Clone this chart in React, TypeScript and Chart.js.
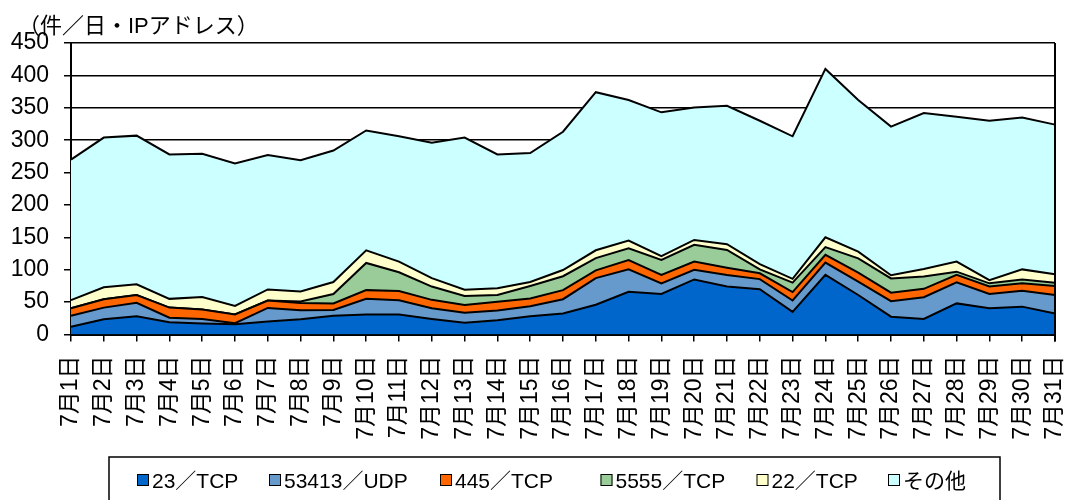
import React, { useEffect, useRef } from "react";
import { Chart, registerables } from "chart.js";

Chart.register(...registerables);

const FONT = "'Liberation Sans', Arial, 'Noto Sans CJK JP', sans-serif";

const TITLE = "（件／日・IPアドレス）";

const days = [
  "7月1日", "7月2日", "7月3日", "7月4日", "7月5日", "7月6日", "7月7日", "7月8日",
  "7月9日", "7月10日", "7月11日", "7月12日", "7月13日", "7月14日", "7月15日", "7月16日",
  "7月17日", "7月18日", "7月19日", "7月20日", "7月21日", "7月22日", "7月23日", "7月24日",
  "7月25日", "7月26日", "7月27日", "7月28日", "7月29日", "7月30日", "7月31日",
];

const yTicks = [0, 50, 100, 150, 200, 250, 300, 350, 400, 450];

const tcp23 = [12, 23.5, 28, 19, 17, 16, 20, 23.5, 29, 31, 31, 24, 18, 22, 28, 32.5, 46, 66, 62.5, 85, 74, 70, 35, 92, 61, 27.5, 24, 48, 40.5, 43, 32.5];
const udp53413 = [17, 18, 21, 7, 7, 1.5, 21, 14, 9, 24, 22, 16.5, 15.5, 15, 15.5, 22, 41, 34.5, 16.5, 15, 18, 15.5, 17.5, 19, 20.5, 24, 33.5, 32.5, 22, 24.5, 28.5];
const tcp445 = [11.5, 13, 12, 15.5, 14.5, 13.5, 11.5, 11, 10, 13.5, 14, 13, 12, 13.5, 12, 14, 12, 14.5, 13, 12.5, 11, 9, 13, 12, 14, 13, 13, 11.5, 11.5, 11.5, 14];
const tcp5555 = [0, 0, 0, 0, 0, 0, 0, 2.5, 14.5, 42, 29, 20.5, 14, 10.5, 19.5, 21.5, 19, 18, 23, 26, 27.5, 6, 14.5, 12, 22, 22, 19, 5, 5, 6, 5];
const tcp22 = [12.5, 18.5, 16.5, 13.5, 19.5, 13, 17, 15.5, 18.5, 19.5, 16.5, 13, 9.5, 10.5, 6, 9.5, 12, 12, 6, 7.5, 9, 8, 6, 15, 10.5, 5, 11.5, 15.5, 5, 15.5, 13];
const others = [217, 231, 229.5, 223, 221, 220, 207.5, 202.5, 203, 185, 193.5, 209, 235, 206.5, 199, 213.5, 244, 217, 222, 204.5, 213.5, 221.5, 220, 260, 234, 229.5, 241, 223.5, 246, 234.5, 231];

const seriesNames = ["23／TCP", "53413／UDP", "445／TCP", "5555／TCP", "22／TCP", "その他"];
const seriesColors = ["#0066CC", "#6699CC", "#FF6600", "#99CC99", "#FFFFCC", "#CCFFFF"];
const seriesData = [tcp23, udp53413, tcp445, tcp5555, tcp22, others];

const legendBoxX = [137, 269, 440, 600.5, 756.5, 888];

const decorPlugin = {
  id: "decor",
  afterDraw(chart: any) {
    const ctx = chart.ctx as CanvasRenderingContext2D;
    const area = chart.chartArea;
    ctx.save();
    // right border of plot area
    ctx.strokeStyle = "#000";
    ctx.lineWidth = 2;
    ctx.beginPath();
    ctx.moveTo(area.right, area.top);
    ctx.lineTo(area.right, area.bottom + 7);
    ctx.stroke();

    // title
    ctx.fillStyle = "#000";
    ctx.font = `22px ${FONT}`;
    ctx.textAlign = "left";
    ctx.textBaseline = "alphabetic";
    ctx.fillText(TITLE, 18, 33);

    // legend
    ctx.font = `21px ${FONT}`;
    const ds = chart.data.datasets;
    const box = 12;
    const cy = 480;
    ds.forEach((d: any, i: number) => {
      const x = legendBoxX[i];
      ctx.fillStyle = d.backgroundColor;
      ctx.fillRect(x, cy - box / 2, box, box);
      ctx.strokeStyle = "#000";
      ctx.lineWidth = 1;
      ctx.strokeRect(x + 0.5, cy - box / 2 + 0.5, box - 1, box - 1);
      ctx.fillStyle = "#000";
      ctx.fillText(d.label, x + box + 3, 488);
    });
    ctx.strokeStyle = "#000";
    ctx.lineWidth = 1.5;
    ctx.strokeRect(109, 457, 891, 60);
    ctx.restore();
  },
};

export default function App() {
  const ref = useRef<HTMLCanvasElement | null>(null);
  useEffect(() => {
    document.body.style.margin = "0";
    if (!ref.current) return;
    const chart = new Chart(ref.current, {
      type: "line",
      data: {
        labels: days,
        datasets: seriesData.map((d, i) => ({
          label: seriesNames[i],
          data: d,
          backgroundColor: seriesColors[i],
          borderColor: "#000",
          borderWidth: 2,
          pointRadius: 0,
          pointHoverRadius: 0,
          tension: 0,
          fill: i === 0 ? "origin" : "-1",
        })),
      },
      options: {
        responsive: false,
        animation: false,
        devicePixelRatio: 1,
        layout: { padding: { left: 0, right: 17, top: 43, bottom: 0 } },
        plugins: {
          legend: { display: false },
          tooltip: { enabled: false },
          title: { display: false },
        },
        scales: {
          x: {
            type: "category",
            offset: false,
            grid: {
              drawOnChartArea: false,
              drawTicks: true,
              tickLength: 7,
              color: "#000",
              lineWidth: 1.5,
            },
            border: { color: "#000", width: 2 },
            ticks: {
              autoSkip: false,
              maxRotation: 90,
              minRotation: 90,
              padding: 14,
              color: "#000",
              font: { size: 23, family: FONT },
            },
            afterFit: (s: any) => {
              s.height = 165.5;
              s.paddingLeft = 0;
              s.paddingRight = 0;
            },
          },
          y: {
            stacked: true,
            min: 0,
            max: 450,
            afterBuildTicks: (s: any) => {
              s.ticks = yTicks.map((v) => ({ value: v }));
            },
            grid: {
              color: "#000",
              lineWidth: 1.5,
              tickLength: 7,
            },
            border: { color: "#000", width: 2 },
            ticks: {
              padding: 15,
              color: "#000",
              font: { size: 23, family: FONT },
            },
            afterFit: (s: any) => {
              s.width = 71;
              s.paddingTop = 0;
              s.paddingBottom = 0;
            },
          },
        },
      },
      plugins: [decorPlugin],
    });
    return () => chart.destroy();
  }, []);
  return (
    <canvas ref={ref} width={1072} height={500} style={{ display: "block", width: 1072, height: 500 }} />
  );
}
